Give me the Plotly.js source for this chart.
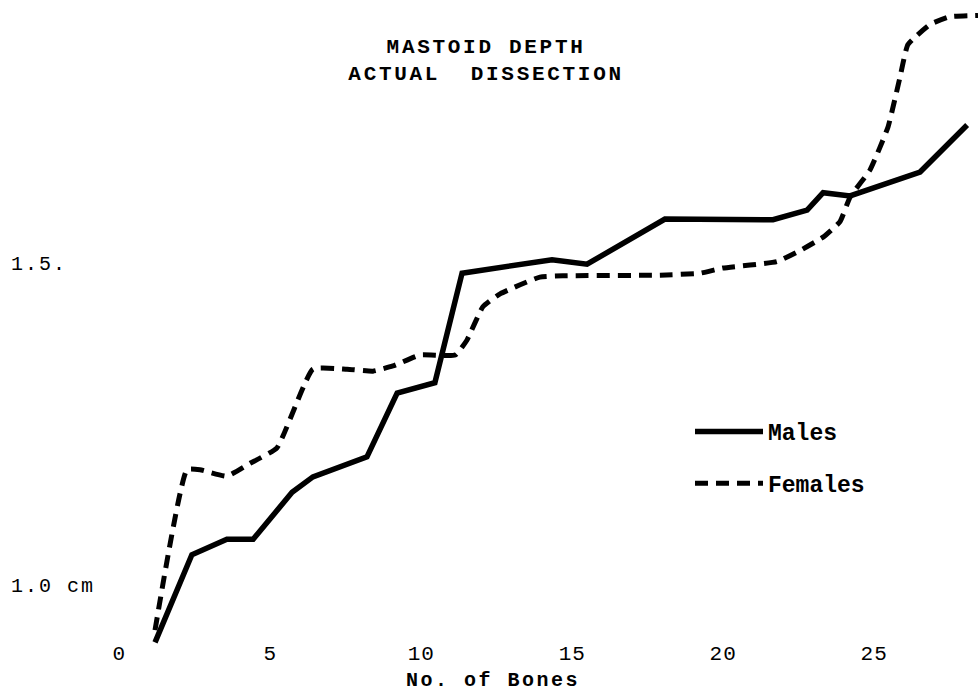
<!DOCTYPE html>
<html>
<head>
<meta charset="utf-8">
<script src="https://cdn.plot.ly/plotly-3.0.1.min.js"></script>
<style>
  html, body { margin: 0; padding: 0; background: #ffffff; }
  #chart { width: 978px; height: 692px; }
  /* typewriter-style letter spacing */
  #chart .gtitle { letter-spacing: 2.7px; }
  #chart .g-xtitle text { letter-spacing: 2.5px; }
  #chart .ytick text { letter-spacing: 2px; }
  #chart .xtick text { letter-spacing: 1px; }
</style>
</head>
<body>
<div id="chart"></div>
<script>
// Males (solid line): number of bones vs mastoid depth (cm)
const malesBones = [1.18, 2.40, 3.56, 4.43, 5.72, 6.41, 8.20, 9.20, 10.45, 11.35, 14.33, 15.49, 18.07, 21.65, 22.78, 23.31, 24.20, 26.52, 28.08];
const malesDepth = [0.911, 1.047, 1.071, 1.071, 1.144, 1.168, 1.199, 1.298, 1.314, 1.484, 1.505, 1.498, 1.568, 1.567, 1.582, 1.609, 1.604, 1.641, 1.714];

// Females (dashed line)
const femalesBones = [1.18, 2.24, 2.67, 3.56, 4.33, 5.22, 6.41, 7.54, 8.40, 9.06, 9.96, 11.12, 11.51, 12.04, 12.61, 13.93, 14.69, 17.91, 19.23, 19.99, 21.78, 22.54, 23.31, 23.87, 24.20, 24.86, 25.46, 25.86, 26.12, 26.85, 27.51, 28.44];
const femalesDepth = [0.930, 1.179, 1.179, 1.169, 1.189, 1.213, 1.335, 1.335, 1.332, 1.340, 1.357, 1.357, 1.380, 1.432, 1.452, 1.478, 1.480, 1.481, 1.484, 1.492, 1.502, 1.519, 1.540, 1.564, 1.602, 1.644, 1.711, 1.789, 1.839, 1.870, 1.882, 1.884];

// Axis ticks
const xTickVals = [0, 5, 10, 15, 20, 25];
const xTickText = ["0", "5", "10", "15", "20", "25"];
const yTickVals = [1.0, 1.5];
const yTickText = ["1.0 cm", "1.5."];

const FONT = "'Liberation Mono', 'DejaVu Sans Mono', monospace";

const traces = [
  {
    x: malesBones, y: malesDepth, name: "Males",
    type: "scatter", mode: "lines", legendgroup: "m",
    line: { color: "#000000", width: 5.5, shape: "linear" }
  },
  {
    x: femalesBones, y: femalesDepth, name: "Females",
    type: "scatter", mode: "lines", legendgroup: "f",
    line: { color: "#000000", width: 5, dash: "13px,8px", shape: "spline", smoothing: 0.4 }
  }
];

const layout = {
  width: 978, height: 692,
  paper_bgcolor: "#ffffff", plot_bgcolor: "#ffffff",
  margin: { l: 8, r: 0, t: 0, b: 47 },
  font: { family: FONT, color: "#000000", size: 20 },
  title: {
    text: "MASTOID DEPTH<br>ACTUAL  DISSECTION",
    font: { family: FONT, size: 21, color: "#000000", weight: "bold" },
    x: 0.497, xref: "container", xanchor: "center",
    y: 1 - 53 / 692, yref: "container", yanchor: "top"
  },
  xaxis: {
    range: [-3.69, 28.44],
    tickmode: "array", tickvals: xTickVals, ticktext: xTickText,
    showgrid: false, zeroline: false, showline: false, ticks: "",
    ticklabelstandoff: -7,
    tickfont: { family: FONT, size: 21, color: "#000000" },
    title: { text: "No. of Bones", font: { family: FONT, size: 20, color: "#000000", weight: "bold" }, standoff: 14 }
  },
  yaxis: {
    range: [0.907, 1.908],
    tickmode: "array", tickvals: yTickVals, ticktext: yTickText,
    ticklabelposition: "inside",
    showgrid: false, zeroline: false, showline: false, ticks: "",
    tickfont: { family: FONT, size: 20, color: "#000000" }
  },
  showlegend: true,
  legend: {
    x: (690 - 8) / 970, y: 1 - 410 / 645, xanchor: "left", yanchor: "top",
    bgcolor: "rgba(0,0,0,0)", borderwidth: 0,
    font: { family: FONT, size: 23, color: "#000000", weight: "bold" },
    tracegroupgap: 19, itemwidth: 68
  }
};

Plotly.newPlot("chart", traces, layout, { staticPlot: true, displayModeBar: false });
</script>
</body>
</html>
